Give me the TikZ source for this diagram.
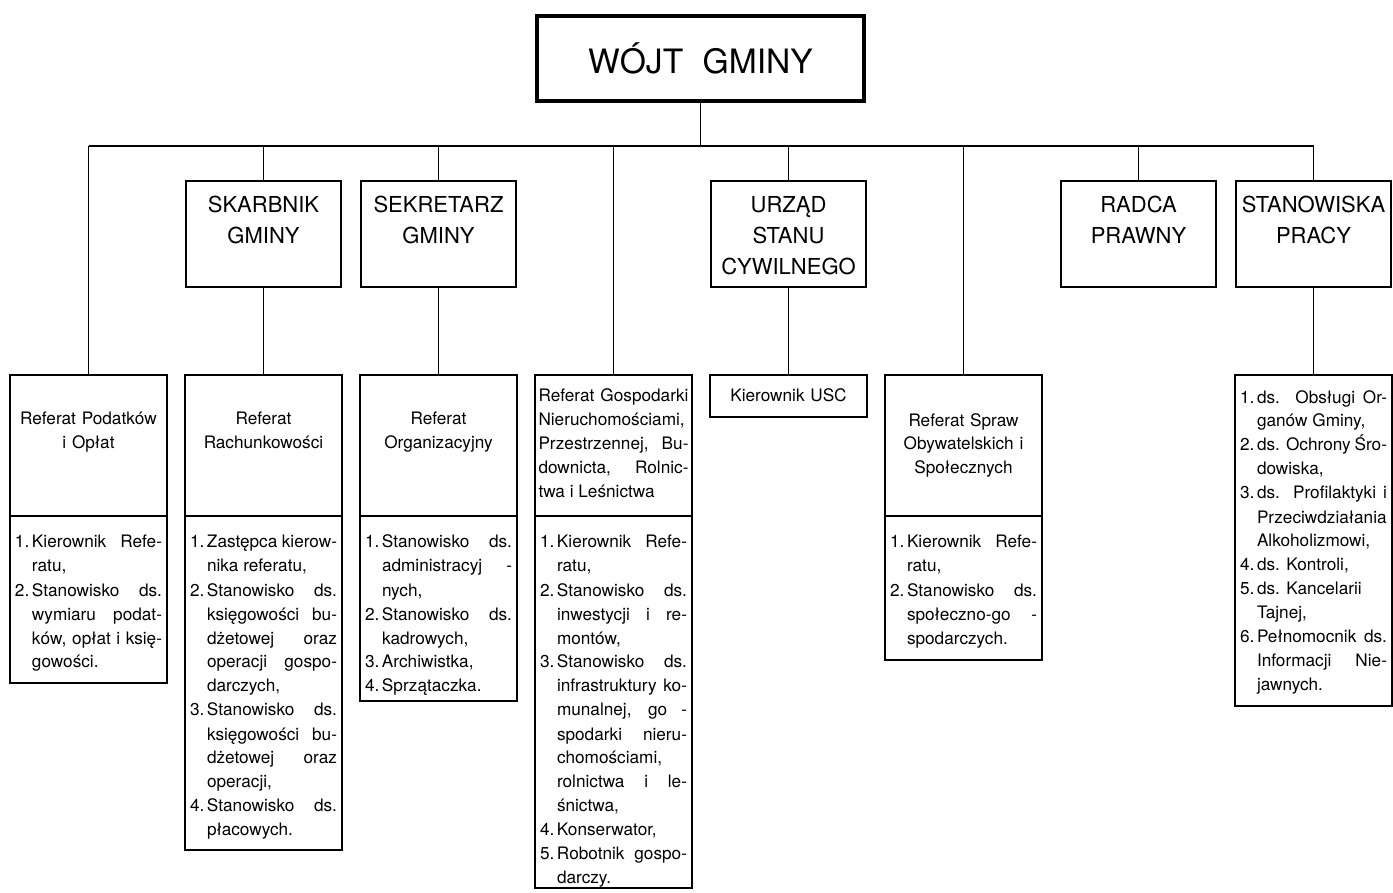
\documentclass[tikz,border=0pt]{standalone}
\usepackage{fontspec}
\setmainfont{TeX Gyre Heros}
\usetikzlibrary{positioning}
\newcommand{\gora}[1]{\rule{0pt}{#1}}
\newcommand{\dol}[1]{\rule[-#1]{0pt}{#1}\par}
\newcommand{\pkt}[1]{\par\hangindent=8.5pt\hangafter=1\noindent\makebox[8.5pt][l]{#1}}
\tolerance=10000 \hbadness=10000 \hfuzz=2pt
\hyphenpenalty=10000 \exhyphenpenalty=10000
\tikzset{
	%Define style for the head box
	wojt/.style={
		rectangle,
		draw=black, line width=2pt, outer sep=0pt,
		minimum width=163.5pt,
		minimum height=42.5pt,
		font=\fontsize{16.8}{20}\selectfont},
	%Define style for the second level boxes
	stanowisko/.style={
		rectangle,
		draw=black, line width=1.2pt, outer sep=0pt,
		text width=75.5pt, inner xsep=1pt, inner ysep=0pt,
		align=center,
		font=\fontsize{11}{15.5}\selectfont},
	%Define style for the referat heads
	referat/.style={
		rectangle,
		draw=black, line width=0.75pt, outer sep=0pt,
		text width=75pt, inner xsep=1.75pt, inner ysep=0pt,
		align=center,
		font=\fontsize{8.6}{12}\selectfont},
	%Define style for the lists
	lista/.style={referat, text width=73.5pt, inner xsep=2.5pt, align=justify},
	% Define line style
	linia/.style={line width=0.7pt}
}

\begin{document}
\begin{tikzpicture}[x=0.5pt,y=-0.5pt]
	\useasboundingbox (0,0) rectangle (1393,893);
	% node Wojt
	\node[wojt] (wojt) at (700.5,58.5) {WÓJT\hspace{0.3em} GMINY};
	\coordinate (szyna) at (700.5,146);
	% second level
	\node[stanowisko, anchor=north] (skarbnik) at (263.5,181) {\gora{16pt}SKARBNIK\\ GMINY\dol{21.5pt}};
	\node[stanowisko, anchor=north] (sekretarz) at (438.5,181) {\gora{16pt}SEKRETARZ\\ GMINY\dol{21.5pt}};
	\node[stanowisko, anchor=north] (usc) at (788.5,181) {\gora{16pt}URZĄD\\ STANU\\ CYWILNEGO\dol{6pt}};
	\node[stanowisko, anchor=north] (radca) at (1138.5,181) {\gora{16pt}RADCA\\ PRAWNY\dol{21.5pt}};
	\node[stanowisko, anchor=north] (stanowiska) at (1313.5,181) {\gora{16pt}STANOWISKA\\ PRACY\dol{21.5pt}};
	% node Referat Podatkow
	\node[referat, anchor=north] (podatki) at (88.5,375) {\gora{24.5pt}Referat Podatków\\ i Opłat\dol{34pt}};
	\node[lista, below=0pt of podatki] (podatki-l) {\pkt{1.}\gora{15pt}Kierownik Refe-\linebreak ratu,
		\pkt{2.}Stanowisko ds.\linebreak wymiaru podat-\linebreak ków, opłat i księ-\linebreak gowości.\dol{7.5pt}};
	% node Referat Rachunkowosci
	\node[referat, anchor=north] (rachunki) at (263.5,375) {\gora{24.5pt}Referat\\ Rachunkowości\dol{34pt}};
	\node[lista, below=0pt of rachunki] (rachunki-l) {\pkt{1.}\gora{15pt}Zastępca kierow-\linebreak nika referatu,
		\pkt{2.}Stanowisko ds.\linebreak księgowości bu-\linebreak dżetowej oraz\linebreak operacji gospo-\linebreak darczych,
		\pkt{3.}Stanowisko ds.\linebreak księgowości bu-\linebreak dżetowej oraz\linebreak operacji,
		\pkt{4.}Stanowisko ds.\linebreak płacowych.\dol{7pt}};
	% node Referat Organizacyjny
	\node[referat, anchor=north] (organizacja) at (438.5,375) {\gora{24.5pt}Referat\\ Organizacyjny\dol{34pt}};
	\node[lista, below=0pt of organizacja] (organizacja-l) {\pkt{1.}\gora{15pt}Stanowisko ds.\linebreak administracyj -\linebreak nych,
		\pkt{2.}Stanowisko ds.\linebreak kadrowych,
		\pkt{3.}Archiwistka,
		\pkt{4.}Sprzątaczka.\dol{4.5pt}};
	% node Referat Gospodarki
	\node[referat, anchor=north, align=justify] (gospodarka) at (613.5,375) {\gora{13pt}Referat Gospodarki\linebreak Nieruchomościami,\linebreak Przestrzennej, Bu-\linebreak downicta, Rolnic-\linebreak twa i Leśnictwa\dol{9.5pt}};
	\node[lista, below=0pt of gospodarka] (gospodarka-l) {\pkt{1.}\gora{15pt}Kierownik Refe-\linebreak ratu,
		\pkt{2.}Stanowisko ds.\linebreak inwestycji i re-\linebreak montów,
		\pkt{3.}Stanowisko ds.\linebreak infrastruktury ko-\linebreak munalnej, go -\linebreak spodarki nieru-\linebreak chomościami,\newline rolnictwa i le-\linebreak śnictwa,
		\pkt{4.}Konserwator,
		\pkt{5.}Robotnik gospo-\linebreak darczy.\dol{2pt}};
	% node Kierownik USC
	\node[referat, anchor=north] (kierownik) at (788.5,375) {\gora{13pt}Kierownik USC\dol{8pt}};
	% node Referat Spraw
	\node[referat, anchor=north] (sprawy) at (963.5,375) {\gora{25.5pt}Referat Spraw\\ Obywatelskich i\\ Społecznych\dol{21pt}};
	\node[lista, below=0pt of sprawy] (sprawy-l) {\pkt{1.}\gora{15pt}Kierownik Refe-\linebreak ratu,
		\pkt{2.}Stanowisko ds.\linebreak społeczno-go -\linebreak spodarczych.\dol{8pt}};
	% node Stanowiska pracy
	\node[lista, anchor=north] (obsluga) at (1313.5,375) {\pkt{1.}\gora{13pt}ds. Obsługi Or-\linebreak ganów Gminy,
		\pkt{2.}ds. Ochrony Śro-\linebreak dowiska,
		\pkt{3.}ds. Profilaktyki i\linebreak Przeciwdziałania\linebreak Alkoholizmowi,
		\pkt{4.}ds. Kontroli,
		\pkt{5.}ds. Kancelarii\newline Tajnej,
		\pkt{6.}Pełnomocnik ds.\linebreak Informacji Nie-\linebreak jawnych.\dol{7.5pt}};
	% connectors
	\draw[linia] (wojt.south) -- (szyna);
	\draw[linia] (podatki.north |- szyna) -- (stanowiska.north |- szyna);
	\draw[linia] (podatki.north) -- (podatki.north |- szyna);
	\draw[linia] (skarbnik.north) -- (skarbnik.north |- szyna);
	\draw[linia] (sekretarz.north) -- (sekretarz.north |- szyna);
	\draw[linia] (gospodarka.north) -- (gospodarka.north |- szyna);
	\draw[linia] (usc.north) -- (usc.north |- szyna);
	\draw[linia] (sprawy.north) -- (sprawy.north |- szyna);
	\draw[linia] (radca.north) -- (radca.north |- szyna);
	\draw[linia] (stanowiska.north) -- (stanowiska.north |- szyna);
	\draw[linia] (skarbnik.south) -- (rachunki.north);
	\draw[linia] (sekretarz.south) -- (organizacja.north);
	\draw[linia] (usc.south) -- (kierownik.north);
	\draw[linia] (stanowiska.south) -- (obsluga.north);
\end{tikzpicture}
\end{document}
